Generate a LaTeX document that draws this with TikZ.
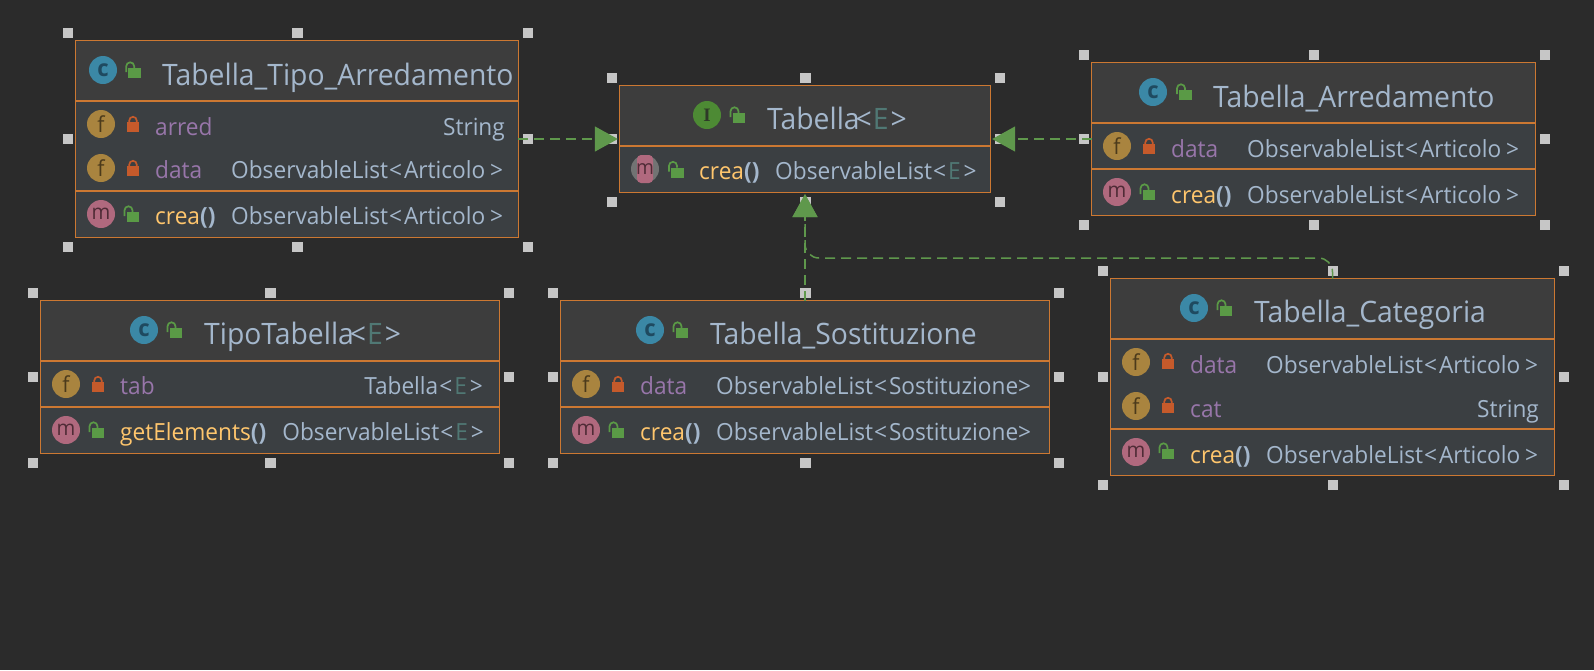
\documentclass[tikz,border=0pt]{standalone}
\usepackage{fontspec}
\setmainfont[FakeStretch=0.96]{Open Sans}
\newfontfamily\iconserif{Liberation Serif}
\usepackage{xcolor}
\usepackage{tikz}
\usetikzlibrary{calc}
\usetikzlibrary{arrows.meta}

\definecolor{bgdark}{HTML}{2B2B2B}
\definecolor{headfill}{HTML}{3D3D3D}
\definecolor{bodyfill}{HTML}{3B3F42}
\definecolor{lineorange}{HTML}{CC7832}
\definecolor{handlegray}{HTML}{C6C6C6}
\definecolor{txtblue}{HTML}{A4B7CC}
\definecolor{txtpurple}{HTML}{9876AA}
\definecolor{txtyellow}{HTML}{FFC66D}
\definecolor{txtteal}{HTML}{507874}
\definecolor{arrowgreen}{HTML}{5F984C}
\definecolor{lockgreen}{HTML}{5A9A46}
\definecolor{lockred}{HTML}{C55A2B}
\definecolor{ballblue}{HTML}{3B88A6}
\definecolor{letterblue}{HTML}{1F4A60}
\definecolor{ballgreen}{HTML}{4D8A34}
\definecolor{lettergreen}{HTML}{2E3A28}
\definecolor{ballbrown}{HTML}{A9843F}
\definecolor{letterbrown}{HTML}{4B3A1B}
\definecolor{ballpink}{HTML}{B0697E}
\definecolor{letterpink}{HTML}{4F2B36}

\tikzset{
    bodybox/.style={fill=bodyfill, inner sep=0pt},
    handlebox/.style={fill=handlegray, inner sep=0pt, minimum size=10.5pt},
    sepline/.style={lineorange, line width=1.7pt},
    edgeline/.style={lineorange, line width=1.3pt},
    titletext/.style={inner sep=0pt, anchor=base west, xshift=-1pt, yshift=-1pt, text=txtblue, font=\fontsize{29.5}{29.5}\selectfont},
    fieldtext/.style={inner sep=0pt, anchor=base west, xshift=-1pt, yshift=-1pt, text=txtpurple, font=\fontsize{23.6}{24}\selectfont},
    methodtext/.style={inner sep=0pt, anchor=base west, xshift=-1pt, yshift=-1pt, text=txtyellow, font=\fontsize{23.6}{24}\selectfont},
    typetext/.style={inner sep=0pt, anchor=base west, xshift=-1pt, yshift=-1pt, text=txtblue, font=\fontsize{23.6}{24}\selectfont},
    typeright/.style={inner sep=0pt, anchor=base east, yshift=-1pt, text=txtblue, font=\fontsize{23.6}{24}\selectfont},
    iconround/.style={circle, inner sep=0pt, minimum size=28pt},
    iconc/.style={iconround, fill=ballblue, text=letterblue, font=\bfseries\fontsize{23}{23}\selectfont},
    iconi/.style={iconround, fill=ballgreen, text=lettergreen, font=\iconserif\bfseries\fontsize{19}{19}\selectfont},
    iconf/.style={iconround, fill=ballbrown, text=letterbrown, font=\fontsize{22}{22}\selectfont},
    iconm/.style={iconround, fill=ballpink, text=letterpink, font=\fontsize{21}{21}\selectfont},
    realizes/.style={arrowgreen, line width=1.5pt, dash pattern=on 10pt off 6pt,
        shorten >=2pt, -{Triangle[length=23pt,width=25pt,fill=arrowgreen]}},
    lockopen/.pic={
        \fill[lockgreen] (-6.3,-5) rectangle (6.3,5);
        \draw[lockgreen, line width=1.7pt] (-8.5,-1) -- (-8.5,-6.7) arc (180:360:4) -- (-0.5,-5);
    },
    lockshut/.pic={
        \fill[lockred] (-6,-5) rectangle (6,5);
        \draw[lockred, line width=1.7pt] (-3.7,-5) -- (-3.7,-6.5) arc (180:360:3.7) -- (3.7,-5);
    }
}

% name, centre x, centre y, width, height, bottom of header
\newcommand{\classbox}[6]{
    \node[bodybox, minimum width=#4pt, minimum height=#5pt] (#1) at (#2,#3) {};
    \fill[headfill] (#1.north west) rectangle (#1.east |- 0,#6);
    \draw[edgeline] (#1.north west) rectangle (#1.south east);
    \draw[sepline] (#1.west |- 0,#6) -- (#1.east |- 0,#6);
    \foreach \i/\anc/\dx/\dy in {1/north west/-8/-8, 2/north/0.5/-8, 3/north east/10/-8, 4/west/-8/0,
        5/east/10/0, 6/south west/-8/10, 7/south/0.5/10, 8/south east/10/10}{
        \node[handlebox] (#1h\i) at ($(#1.\anc)+(\dx,\dy)$) {};
    }
}
\newcommand{\rowline}[2]{\draw[sepline] (#1.west |- 0,#2) -- (#1.east |- 0,#2);}
\newcommand{\gen}[1]{\hspace{1pt}<\hspace{2pt}#1}
\newcommand{\artic}{ObservableList\gen{Articolo\hspace{5pt}>}}
\newcommand{\sosti}{ObservableList\gen{Sostituzione>}}
\newcommand{\letE}{\textcolor{txtteal}{E}}
\newcommand{\parens}{\textcolor{txtblue}{\bfseries()}}
\newcommand{\titleE}{\hspace{-4pt}<\hspace{1pt}\letE\hspace{2pt}>}

\begin{document}
\begin{tikzpicture}[x=1pt,y=-1pt]
    %SHEET
    \fill[bgdark] (0,0) rectangle (1594,670);
    \useasboundingbox (0,0) rectangle (1594,670);

    %BOXES
    \classbox{tipoarr}{297}{139}{442}{196}{101}
    \rowline{tipoarr}{191}
    \classbox{tabella}{805}{139}{370}{106}{146}
    \classbox{arred}{1313.5}{139}{443}{152}{123}
    \rowline{arred}{169}
    \classbox{tipotab}{270}{377}{458}{152}{361}
    \rowline{tipotab}{407}
    \classbox{sostit}{805}{377}{488}{152}{361}
    \rowline{sostit}{407}
    \classbox{categ}{1332.5}{377}{443}{196}{339}
    \rowline{categ}{429}

    %CONNECTORS
    \draw[realizes] (tipoarr.east) -- (tabella.west);
    \draw[realizes] (arred.west) -- (tabella.east);
    \draw[realizes] (sostit.north) -- (tabella.south);
    \coordinate (bendcat) at (tabella.south |- 0,258);
    \draw[realizes, rounded corners=14pt] (categ.north) |- (bendcat) -- (tabella.south);

    %TABELLA_TIPO_ARREDAMENTO
    \node[iconc] (taC) at (103,70) {c};
    \pic at (134.7,73) {lockopen};
    \node[titletext] (taName) at (163,84) {Tabella\_Tipo\_Arredamento};
    \node[iconf] (taF1) at (101,124) {f};
    \pic at (133,127) {lockshut};
    \node[fieldtext] (taArred) at (156,134) {arred};
    \node[typeright] (taArredT) at (505,134) {String};
    \node[iconf] (taF2) at (101,168) {f};
    \pic at (133,171) {lockshut};
    \node[fieldtext] (taData) at (156,177) {data};
    \node[typetext] (taDataT) at (232,177) {\artic};
    \node[iconm] (taM) at (101,214) {m};
    \pic at (133,217) {lockopen};
    \node[methodtext] (taCrea) at (156,223) {crea\parens};
    \node[typetext] (taCreaT) at (232,223) {\artic};

    %TABELLA
    \node[iconi] (tbI) at (707,115) {I};
    \pic at (739,118) {lockopen};
    \node[titletext] (tbName) at (768,128) {Tabella\titleE};
    \node[iconround, fill=gray!80!bodyfill] (tbM) at (645,169) {};
    \fill[ballpink, rounded corners=4pt] (637,155) rectangle (653,183);
    \node[iconround, text=letterpink, font=\fontsize{20}{20}\selectfont] (tbMl) at (645,169) {m};
    \pic at (677.5,172.5) {lockopen};
    \node[methodtext] (tbCrea) at (700,178) {crea\parens};
    \node[typetext] (tbCreaT) at (776,178) {ObservableList\gen{\letE\hspace{3pt}>}};

    %TABELLA_ARREDAMENTO
    \node[iconc] (arC) at (1153,92) {c};
    \pic at (1185.5,95) {lockopen};
    \node[titletext] (arName) at (1214,106) {Tabella\_Arredamento};
    \node[iconf] (arF) at (1117,146) {f};
    \pic at (1149,149) {lockshut};
    \node[fieldtext] (arData) at (1172,156) {data};
    \node[typetext] (arDataT) at (1248,156) {\artic};
    \node[iconm] (arM) at (1117,192) {m};
    \pic at (1149,195) {lockopen};
    \node[methodtext] (arCrea) at (1172,202) {crea\parens};
    \node[typetext] (arCreaT) at (1248,202) {\artic};

    %TIPOTABELLA
    \node[iconc] (ttC) at (144,330) {c};
    \pic at (176,333) {lockopen};
    \node[titletext] (ttName) at (205,343) {TipoTabella\titleE};
    \node[iconf] (ttF) at (66,384) {f};
    \pic at (98,387) {lockshut};
    \node[fieldtext] (ttTab) at (121,393) {tab};
    \node[typeright] (ttTabT) at (483,393) {Tabella\gen{\letE\hspace{3pt}>}};
    \node[iconm] (ttM) at (66,430) {m};
    \pic at (98,433) {lockopen};
    \node[methodtext] (ttGet) at (121,439) {getElements\parens};
    \node[typeright] (ttGetT) at (484,439) {ObservableList\gen{\letE\hspace{3pt}>}};

    %TABELLA_SOSTITUZIONE
    \node[iconc] (soC) at (650,330) {c};
    \pic at (682,333) {lockopen};
    \node[titletext] (soName) at (711,343) {Tabella\_Sostituzione};
    \node[iconf] (soF) at (586,384) {f};
    \pic at (618,387) {lockshut};
    \node[fieldtext] (soData) at (641,393) {data};
    \node[typetext] (soDataT) at (717,393) {\sosti};
    \node[iconm] (soM) at (586,430) {m};
    \pic at (618,433) {lockopen};
    \node[methodtext] (soCrea) at (641,439) {crea\parens};
    \node[typetext] (soCreaT) at (717,439) {\sosti};

    %TABELLA_CATEGORIA
    \node[iconc] (caC) at (1194,308) {c};
    \pic at (1226,311) {lockopen};
    \node[titletext] (caName) at (1255,321) {Tabella\_Categoria};
    \node[iconf] (caF1) at (1136,362) {f};
    \pic at (1168,364) {lockshut};
    \node[fieldtext] (caData) at (1191,372) {data};
    \node[typetext] (caDataT) at (1267,372) {\artic};
    \node[iconf] (caF2) at (1136,406) {f};
    \pic at (1168,408) {lockshut};
    \node[fieldtext] (caCat) at (1191,416) {cat};
    \node[typeright] (caCatT) at (1539,416) {String};
    \node[iconm] (caM) at (1136,452) {m};
    \pic at (1168,454) {lockopen};
    \node[methodtext] (caCrea) at (1191,462) {crea\parens};
    \node[typetext] (caCreaT) at (1267,462) {\artic};
\end{tikzpicture}
\end{document}
